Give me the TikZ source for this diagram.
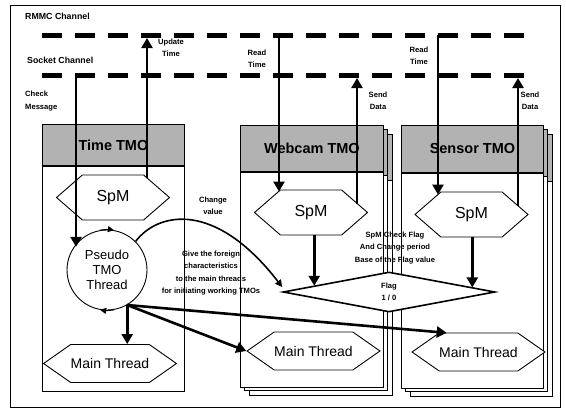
\documentclass[tikz,border=0pt]{standalone}
\usepackage{fontspec}
\setmainfont{Liberation Sans}
\usepackage{tikz}
\usetikzlibrary{shapes.geometric, shapes.symbols, arrows.meta, positioning, calc}
\definecolor{headgray}{RGB}{178,178,178}

\begin{document}
\begin{tikzpicture}[
  x=1pt, y=-1pt,
  chan/.style={line width=5pt, dash pattern=on 20pt off 13pt},
  head/.style={rectangle, draw, line width=0.9pt, fill=headgray, anchor=north west, inner sep=0pt, font=\fontsize{14.5}{16}\selectfont\bfseries},
  body/.style={rectangle, draw, line width=0.9pt, fill=white, anchor=north west, inner sep=0pt},
  spm/.style={signal, signal to=east and west, signal pointer angle=82, draw, line width=0.9pt, fill=white, minimum width=113pt, minimum height=45pt, inner sep=0pt, font=\fontsize{16}{18}\selectfont},
  mthread/.style={signal, signal to=east and west, signal pointer angle=70, draw, line width=0.9pt, fill=white, minimum width=118pt, minimum height=38pt, inner sep=0pt, font=\fontsize{14}{16}\selectfont},
  lbl/.style={font=\fontsize{7.6}{12.5}\selectfont\bfseries, align=center, inner sep=0pt},
  arr/.style={-{Triangle[length=10pt, width=11pt]}, line width=2.6pt},
  thinarr/.style={-{Triangle[length=7pt, width=7pt]}, line width=1.6pt},
  cyc/.style={-{Triangle[length=6pt, width=6pt]}, line width=0.9pt}
]
  \useasboundingbox (0,0) rectangle (566,410);
  % outer frame
  \draw[line width=0.6pt] (10,5) rectangle (560,407);

  % channels
  \draw[chan] (42,35) -- (527,35);
  \draw[chan] (42,75) -- (527,75);
  \node[lbl, anchor=west, font=\fontsize{8.8}{10}\selectfont\bfseries] (rmmc) at (25,16) {RMMC Channel};
  \node[lbl, anchor=west, font=\fontsize{8.8}{10}\selectfont\bfseries] (sock) at (27,60) {Socket Channel};

  % stacked pages behind webcam and sensor
  \foreach \d in {9,4.5} {
    \draw[line width=0.9pt, fill=white] (240+\d,125+\d) rectangle ++(143,261);
    \draw[line width=0.9pt, fill=headgray] (240+\d,125+\d) rectangle ++(143,46);
    \draw[line width=0.9pt, fill=white] (401+\d,125+\d) rectangle ++(142,262);
    \draw[line width=0.9pt, fill=headgray] (401+\d,125+\d) rectangle ++(142,47);
  }

  % TMO boxes
  \node[head, minimum width=142pt, minimum height=41pt] (thead) at (42,124) {Time TMO};
  \node[body, minimum width=142pt, minimum height=225pt] (tbody) at (thead.south west) {};
  \node[head, minimum width=143pt, minimum height=46pt] (whead) at (240,125) {Webcam TMO};
  \node[body, minimum width=143pt, minimum height=215pt] (wbody) at (whead.south west) {};
  \node[head, minimum width=142pt, minimum height=47pt] (shead) at (401,125) {Sensor TMO};
  \node[body, minimum width=142pt, minimum height=215pt] (sbody) at (shead.south west) {};

  % SpM
  \node[spm] (tspm) at (113,197.5) {SpM};
  \node[spm] (wspm) at (311,212.5) {SpM};
  \node[spm] (sspm) at (471.5,214.5) {SpM};

  % pseudo thread and flag
  \node[circle, draw, line width=0.9pt, fill=white, minimum size=80pt, inner sep=0pt, align=center, font=\fontsize{13}{15}\selectfont] (pseudo) at (107,270) {Pseudo\\TMO\\Thread};
  \draw[cyc] (pseudo.100) arc[start angle=100, end angle=80, radius=40pt];
  \draw[cyc] (pseudo.-80) arc[start angle=-80, end angle=-100, radius=40pt];
  \node[diamond, draw, line width=1.6pt, fill=white, minimum width=212pt, minimum height=40pt, inner sep=0pt, align=center, font=\fontsize{7.6}{12.5}\selectfont\bfseries] (flag) at (389,292) {Flag\\1 / 0};

  % main threads
  \node[mthread] (tmt) at (110,363.5) {Main Thread};
  \node[mthread] (wmt) at (313.5,351) {Main Thread};
  \node[mthread] (smt) at (478.5,352) {Main Thread};

  % channel ends
  \coordinate (chk) at (76,75);
  \coordinate (upd) at (147,38);
  \coordinate (wread) at (279,35);
  \coordinate (wsend) at (357,78);
  \coordinate (sread) at (438,35);
  \coordinate (ssend) at (518,78);
  \coordinate (wflag) at ($(flag.west)!0.3!(flag.north)$);
  \coordinate (sflag) at ($(flag.north)!0.78!(flag.east)$);

  % connectors
  \draw[arr] (chk) -- (chk |- pseudo.145);
  \draw[arr] ([yshift=-3pt]upd |- tspm.north) -- (upd);
  \draw[arr] (wread) -- ([yshift=-2pt]wread |- wspm.north);
  \draw[arr] ([yshift=-14pt]wsend |- wspm.north) -- (wsend);
  \draw[arr] (sread) -- ([yshift=-3pt]sread |- sspm.north);
  \draw[arr] ([yshift=-14pt]ssend |- sspm.north) -- (ssend);
  \draw[arr] (wspm.south -| wflag) -- (wflag);
  \draw[arr] (sspm.south -| sflag) -- (sflag);
  \draw[thinarr] (pseudo.45) .. controls (158,212) and (215,200) .. ([yshift=5pt]flag.west);
  \draw[arr] (pseudo.-60) -- (pseudo.-60 |- tmt.north);
  \draw[arr] (pseudo.-60) -- (wmt.west);
  \draw[arr] (pseudo.-60) -- ([xshift=8pt]smt.north west);

  % labels
  \node[lbl, anchor=west, align=left] (chkl) at (25,101) {Check\\Message};
  \node[lbl] (updl) at (171,48) {Update\\Time};
  \node[lbl] (wrdl) at (257,59) {Read\\Time};
  \node[lbl] (srdl) at (419,56) {Read\\Time};
  \node[lbl] (wsdl) at (378,101) {Send\\Data};
  \node[lbl] (ssdl) at (530,101) {Send\\Data};
  \node[lbl] (chgl) at (213,206) {Change\\value};
  \node[lbl] (givel) at (211,273) {Give the foreign\\characteristics\\to the main threads\\for initiating working TMOs};
  \node[lbl] (chkfl) at (395,248) {SpM Check Flag\\And Change period\\Base of the Flag value};
\end{tikzpicture}
\end{document}
